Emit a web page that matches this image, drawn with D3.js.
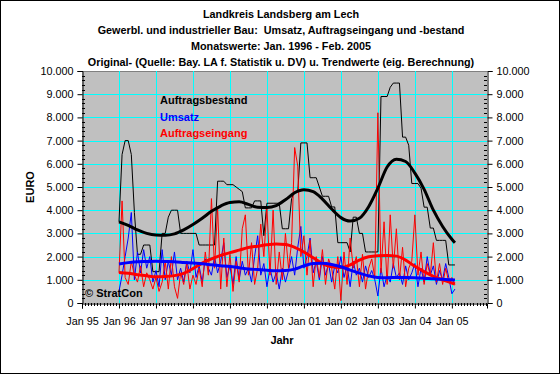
<!DOCTYPE html>
<html><head><meta charset="utf-8">
<script src="https://cdn.jsdelivr.net/npm/d3@7"></script>
<style>
html,body{margin:0;padding:0;background:#fff;}
svg{display:block;font-family:Arial,"Liberation Sans",sans-serif;}
.t{white-space:pre;}
</style></head>
<body><svg id="c" width="560" height="374"></svg>
<script>
// ---- DATA ----
const titleLines = ["Landkreis Landsberg am Lech",
  "Gewerbl. und industrieller Bau:  Umsatz, Auftragseingang und -bestand",
  "Monatswerte: Jan. 1996 - Feb. 2005",
  "Original- (Quelle: Bay. LA f. Statistik u. DV) u. Trendwerte (eig. Berechnung)"];
const yTicks = [0,1000,2000,3000,4000,5000,6000,7000,8000,9000,10000];
const xTickLabels = ["Jan 95","Jan 96","Jan 97","Jan 98","Jan 99","Jan 00","Jan 01","Jan 02","Jan 03","Jan 04","Jan 05"];
const seriesNames = ["Auftragsbestand","Umsatz","Auftragseingang"];
// monthly values Jan 1996 .. Feb 2005 (110 months)
const auftragsbestand = [3500,6400,7000,7000,6400,3900,2100,2100,2500,2500,2500,1350,1350,1350,3000,3000,3700,4000,4000,4000,
 3000,3000,3000,3000,3000,3000,2500,2500,2500,2500,2500,2500,5250,5250,5250,5100,5100,5100,5000,4900,
 4800,4100,4100,4100,4400,4400,4400,2900,4300,4300,4300,4300,4300,3200,3200,3200,4500,4800,4800,6900,
 6900,6900,5400,5400,5400,5000,4600,4600,4600,4140,4140,2600,2600,2600,2600,2200,3700,3700,3000,3000,
 2200,2200,2200,2200,2200,8900,8900,8900,9300,9480,9480,9480,7150,7150,6800,5150,5150,5150,4950,4130,
 4130,3230,3230,2700,2700,2700,2700,1640,1640,1640];
const umsatz = [500,1200,2000,2800,3900,1000,2200,1300,2300,1500,2000,900,1400,700,2300,1000,1800,1200,2200,1000,
 1500,900,1800,1300,2300,1100,1600,900,1900,1500,1200,2000,1300,1800,2600,1100,1600,800,2000,1000,
 1800,1200,1500,900,2000,2900,1200,1700,700,1500,900,1300,600,1500,900,1400,2000,1200,2400,3300,
 1500,2000,2800,1300,1800,1000,2000,1200,1700,900,1600,1300,2000,1100,1600,700,1800,1200,1500,900,
 1600,1100,1400,1000,300,1500,700,1200,900,1700,1100,1300,800,1600,1000,1300,1700,700,1500,900,
 2000,1200,1600,800,1400,1000,1700,1100,400,600];
const auftragseingang = [1300,4400,1100,800,1800,1200,900,1600,700,1300,1000,600,1100,500,900,1800,600,2000,700,200,
 1300,800,1700,600,1200,800,1500,700,2200,1200,4500,1500,4100,600,2800,700,2100,500,1800,900,
 3200,3800,1200,2600,800,1500,3400,2000,4100,1200,4000,800,2200,1000,3000,1500,2600,6700,5900,2000,
 2900,1200,2700,700,2000,1100,2300,800,1900,1500,600,2000,100,2200,800,2800,1500,2000,700,2100,
 600,1500,1900,1100,8200,1300,3500,800,3800,1500,3200,1000,2400,700,1500,1800,3800,1200,2200,800,
 1700,1200,2600,900,1700,800,1500,900,1100,800];
// trend values, quarterly (month index from Jan 1996)
const trendMonths = [0,3,6,9,12,15,18,21,24,27,30,33,36,39,42,45,48,51,54,57,60,63,66,69,72,75,78,81,84,87,90,93,96,99,102,105,108,109];
const trendBestand = [3500,3350,3150,3000,2930,2920,2980,3150,3380,3650,3950,4180,4330,4360,4250,4130,4120,4200,4450,4750,
 4880,4800,4480,4050,3680,3530,3650,4150,4950,5860,6200,6100,5600,4900,4000,3300,2750,2600];
const trendUmsatz = [1680,1740,1780,1790,1800,1790,1780,1750,1720,1690,1650,1610,1570,1520,1470,1440,1410,1390,1400,1460,
 1600,1700,1710,1660,1560,1420,1290,1170,1100,1090,1100,1100,1090,1070,1040,1020,1000,990];
const trendEingang = [1320,1280,1220,1170,1130,1140,1180,1280,1480,1720,1900,2050,2170,2280,2390,2450,2510,2540,2520,2400,
 2200,1950,1700,1560,1530,1640,1850,1990,2040,2050,2020,1850,1580,1350,1150,1000,860,820];

// ---- CHART ----
const svg = d3.select("#c");
const W = 560, H = 374;
const L = 82, R = 487, T = 71, B = 303;
svg.append("rect").attr("x",0.5).attr("y",0.5).attr("width",W-1).attr("height",H-1)
  .attr("fill","#fff").attr("stroke","#000");

titleLines.forEach((t,i)=>{
  svg.append("text").attr("class","t").attr("x",281).attr("y",18+i*16).attr("text-anchor","middle")
   .attr("font-size","10.8px").attr("font-weight","bold").text(t);
});

const startMonth = 12; // Jan 96 in months from Jan 95
const x = d3.scaleLinear().domain([0,131.4]).range([L,R]);
const y = d3.scaleLinear().domain([0,10000]).range([B,T]);

svg.append("rect").attr("x",L).attr("y",T).attr("width",R-L).attr("height",B-T).attr("fill","#c0c0c0");
svg.append("line").attr("x1",L).attr("x2",R).attr("y1",T+0.5).attr("y2",T+0.5).attr("stroke","#808080");

const g = svg.append("g");
// grid
yTicks.slice(1,-1).forEach(v=>{
  g.append("line").attr("x1",L).attr("x2",R).attr("y1",Math.round(y(v))+0.5).attr("y2",Math.round(y(v))+0.5)
   .attr("stroke","#00ffff").attr("stroke-width",1);
});
xTickLabels.forEach((t,i)=>{
  if(i===0) return;
  const xx = Math.round(x(i*12))+0.5;
  g.append("line").attr("x1",xx).attr("x2",xx).attr("y1",T).attr("y2",B).attr("stroke","#00ffff");
});

// axes
const fmt = v => d3.format(",")(v).replace(/,/g,".");
const minor = d3.range(0,10001,200);
const axL = svg.append("g").attr("transform",`translate(${L+0.5},0)`)
  .call(d3.axisLeft(y).tickValues(yTicks).tickFormat(fmt).tickSize(5).tickPadding(4));
const axR = svg.append("g").attr("transform",`translate(${R+0.5},0)`)
  .call(d3.axisRight(y).tickValues(yTicks).tickFormat(fmt).tickSize(5).tickPadding(4));
[axL,axR].forEach(a=>{
  a.select(".domain").attr("stroke","#000");
  a.selectAll("text").attr("font-size","10.8px").attr("fill","#000").attr("font-family","Arial,'Liberation Sans',sans-serif");
  a.selectAll(".tick line").attr("stroke","#000");
});
minor.forEach(v=>{
  if(v%1000===0) return;
  const yy = Math.round(y(v))+0.5;
  svg.append("line").attr("x1",L).attr("x2",L+3).attr("y1",yy).attr("y2",yy).attr("stroke","#000");
  svg.append("line").attr("x1",R-3).attr("x2",R).attr("y1",yy).attr("y2",yy).attr("stroke","#000");
});
const axB = svg.append("g").attr("transform",`translate(0,${B+0.5})`)
  .call(d3.axisBottom(x).tickValues(xTickLabels.map((d,i)=>i*12)).tickFormat((d,i)=>xTickLabels[i]).tickSize(5).tickPadding(9));
axB.select(".domain").attr("stroke","#000");
axB.selectAll("text").attr("font-size","10.8px").attr("fill","#000").attr("font-family","Arial,'Liberation Sans',sans-serif");
axB.selectAll(".tick line").attr("stroke","#000");
d3.range(0,132,1).forEach(m=>{
  if(m%12===0) return;
  const xx = Math.round(x(m))+0.5;
  svg.append("line").attr("x1",xx).attr("x2",xx).attr("y1",B).attr("y2",B+3).attr("stroke","#000");
});

// axis titles
svg.append("text").attr("x",282).attr("y",344).attr("text-anchor","middle")
  .attr("font-size","11px").attr("font-weight","bold").text("Jahr");
svg.append("text").attr("transform","translate(34,187) rotate(-90)").attr("text-anchor","middle")
  .attr("font-size","11px").attr("font-weight","bold").text("EURO");

// series lines
const lineRaw = d3.line().x((d,i)=>x(startMonth+i)).y(d=>y(d));
const lineTrend = d3.line().x((d,i)=>x(startMonth+trendMonths[i])).y(d=>y(d)).curve(d3.curveMonotoneX);
const plot = svg.append("g");
plot.append("path").datum(auftragsbestand).attr("d",lineRaw).attr("fill","none").attr("stroke","#000").attr("stroke-width",1);
plot.append("path").datum(umsatz).attr("d",lineRaw).attr("fill","none").attr("stroke","#0000ff").attr("stroke-width",1);
plot.append("path").datum(auftragseingang).attr("d",lineRaw).attr("fill","none").attr("stroke","#ff0000").attr("stroke-width",1);
plot.append("path").datum(trendBestand).attr("d",lineTrend).attr("fill","none").attr("stroke","#000").attr("stroke-width",3);
plot.append("path").datum(trendEingang).attr("d",lineTrend).attr("fill","none").attr("stroke","#ff0000").attr("stroke-width",3);
plot.append("path").datum(trendUmsatz).attr("d",lineTrend).attr("fill","none").attr("stroke","#0000ff").attr("stroke-width",3);

// legend labels
const legCol = ["#000","#0000ff","#ff0000"];
seriesNames.forEach((n,i)=>{
  svg.append("text").attr("x",160).attr("y",104+i*16.5).attr("font-size","11px").attr("font-weight","bold")
    .attr("fill",legCol[i]).text(n);
});
svg.append("text").attr("x",85).attr("y",297).attr("font-size","11px").attr("font-weight","bold").text("© StratCon");
</script></body></html>
